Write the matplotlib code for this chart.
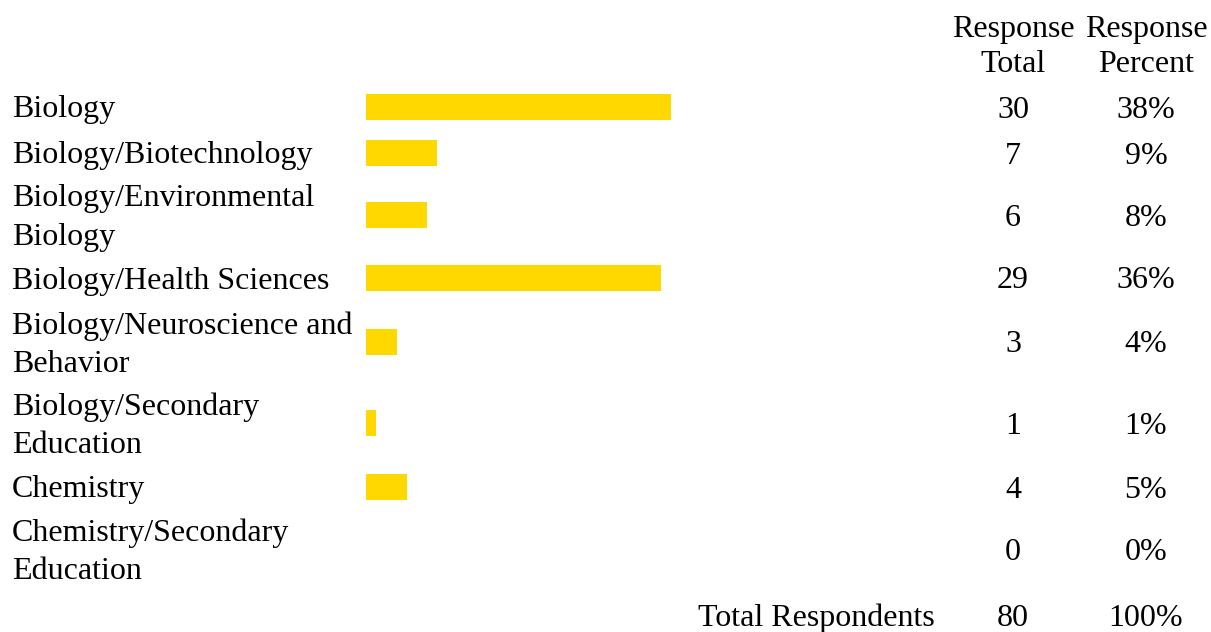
import matplotlib.pyplot as plt

# survey data
categories = ["Biology", "Biology/Biotechnology", "Biology/Environmental\nBiology",
              "Biology/Health Sciences", "Biology/Neuroscience and\nBehavior",
              "Biology/Secondary\nEducation", "Chemistry", "Chemistry/Secondary\nEducation"]
counts = [30, 7, 6, 29, 3, 1, 4, 0]
percents = ["38%", "9%", "8%", "36%", "4%", "1%", "5%", "0%"]
total_count = 80
total_percent = "100%"

# layout (pixels)
W, H = 1211, 632
row_y = [107, 153, 215, 278, 342, 423, 487, 549]
total_y = 615
col_total = 1013
col_pct = 1146
bar_left = 366
px_per_count = 10.17
dy = 3  # text sits a touch lower than the bar centre

font = {'family': 'Liberation Serif', 'size': 23}
gold = '#FFD800'

fig = plt.figure(figsize=(W / 100, H / 100), dpi=100)
ax = fig.add_axes([0, 0, 1, 1])
ax.set_xlim(0, W)
ax.set_ylim(H, 0)
ax.axis('off')

# bars in their own axes, x in counts
bw = max(counts) * px_per_count
bax = fig.add_axes([bar_left / W, 0, bw / W, 1])
bax.set_xlim(0, max(counts))
bax.set_ylim(H, 0)
bax.axis('off')
bax.barh(row_y, counts, height=26, color=gold, left=0)

ax.text(col_total, 27 + dy, "Response", ha='center', va='center', **font)
ax.text(col_total, 62 + dy, "Total", ha='center', va='center', **font)
ax.text(col_pct, 27 + dy, "Response", ha='center', va='center', **font)
ax.text(col_pct, 62 + dy, "Percent", ha='center', va='center', **font)

for y, lab, c, p in zip(row_y, categories, counts, percents):
    ax.text(12, y + dy, lab, ha='left', va='center', linespacing=1.43, **font)
    ax.text(col_total, y + dy, str(c), ha='center', va='center', **font)
    ax.text(col_pct, y + dy, p, ha='center', va='center', **font)

ax.text(935, total_y + dy, "Total Respondents", ha='right', va='center', **font)
ax.text(col_total, total_y + dy, str(total_count), ha='center', va='center', **font)
ax.text(col_pct, total_y + dy, total_percent, ha='center', va='center', **font)

fig.savefig("out.png", dpi=100)
